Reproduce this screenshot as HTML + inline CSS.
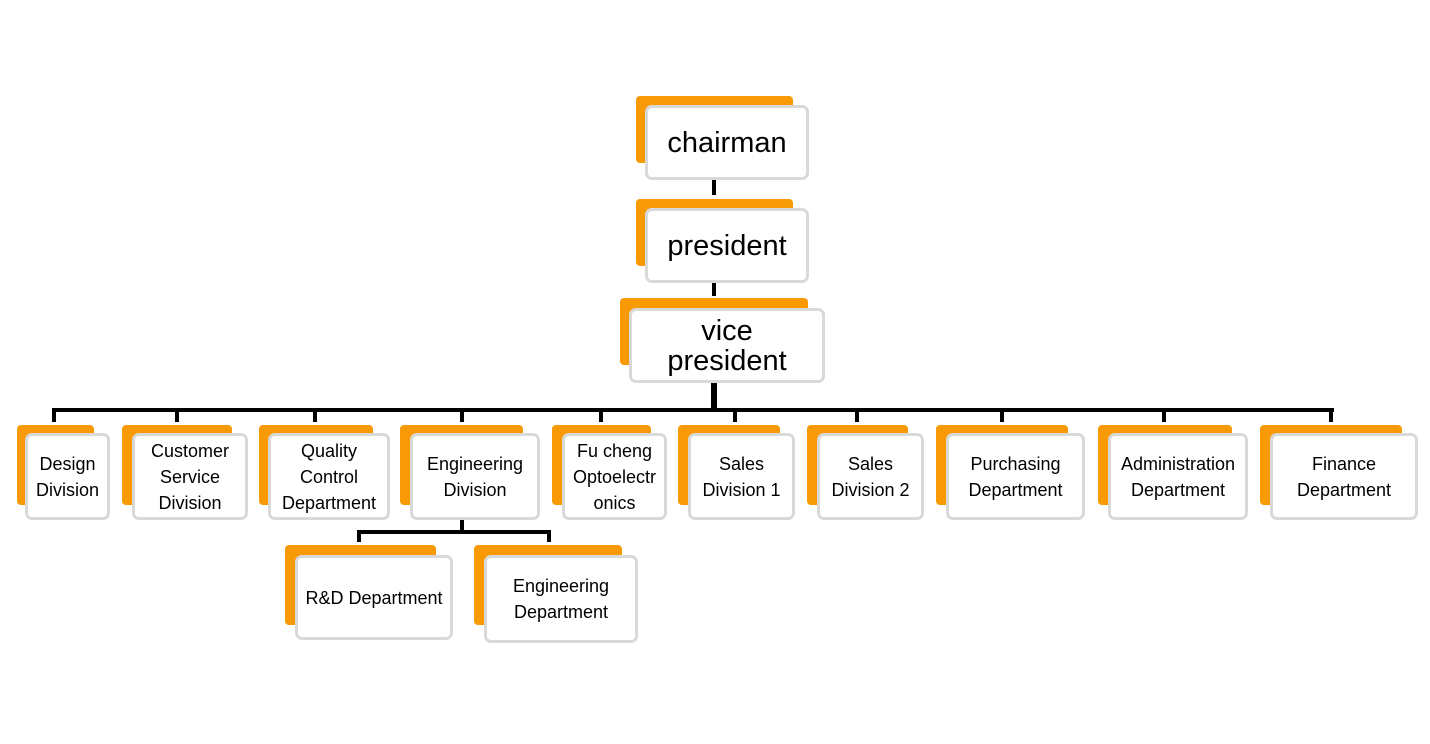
<!DOCTYPE html>
<html><head><meta charset="utf-8"><style>
html,body{margin:0;padding:0;background:#fff;}
body{width:1430px;height:744px;position:relative;overflow:hidden;font-family:"Liberation Sans",sans-serif;}
.o{position:absolute;background:#f89a06;border-radius:4px;}
.w{position:absolute;background:#fff;border:3px solid #d9d9d9;border-radius:7px;box-sizing:border-box;display:flex;align-items:center;justify-content:center;text-align:center;color:#000;font-size:18px;line-height:26px;white-space:nowrap;}
.big{font-size:29px;line-height:30px;}
.l{position:absolute;background:#000;}
</style></head><body>
<div class="l" style="left:712px;top:180px;width:4px;height:15px"></div>
<div class="l" style="left:712px;top:282px;width:4px;height:14px"></div>
<div class="l" style="left:711px;top:382px;width:6px;height:30px"></div>
<div class="l" style="left:52px;top:408px;width:1282px;height:4px"></div>
<div class="l" style="left:52px;top:408px;width:4px;height:14px"></div>
<div class="l" style="left:175px;top:408px;width:4px;height:14px"></div>
<div class="l" style="left:313px;top:408px;width:4px;height:14px"></div>
<div class="l" style="left:460px;top:408px;width:4px;height:14px"></div>
<div class="l" style="left:599px;top:408px;width:4px;height:14px"></div>
<div class="l" style="left:733px;top:408px;width:4px;height:14px"></div>
<div class="l" style="left:855px;top:408px;width:4px;height:14px"></div>
<div class="l" style="left:1000px;top:408px;width:4px;height:14px"></div>
<div class="l" style="left:1162px;top:408px;width:4px;height:14px"></div>
<div class="l" style="left:1329px;top:408px;width:4px;height:14px"></div>
<div class="l" style="left:460px;top:520px;width:4px;height:13px"></div>
<div class="l" style="left:357px;top:530px;width:194px;height:4px"></div>
<div class="l" style="left:357px;top:530px;width:4px;height:12px"></div>
<div class="l" style="left:547px;top:530px;width:4px;height:12px"></div>

<div class="o" style="left:636px;top:96px;width:157px;height:67px"></div>
<div class="w big" style="left:645px;top:105px;width:164px;height:75px">chairman</div>
<div class="o" style="left:636px;top:199px;width:157px;height:67px"></div>
<div class="w big" style="left:645px;top:208px;width:164px;height:75px">president</div>
<div class="o" style="left:620px;top:298px;width:188px;height:67px"></div>
<div class="w big" style="left:629px;top:308px;width:196px;height:75px">vice<br>president</div>

<div class="o" style="left:17px;top:425px;width:77px;height:80px"></div>
<div class="w" style="left:25px;top:433px;width:85px;height:87px">Design<br>Division</div>
<div class="o" style="left:122px;top:425px;width:110px;height:80px"></div>
<div class="w" style="left:132px;top:433px;width:116px;height:87px">Customer<br>Service<br>Division</div>
<div class="o" style="left:259px;top:425px;width:114px;height:80px"></div>
<div class="w" style="left:268px;top:433px;width:122px;height:87px">Quality<br>Control<br>Department</div>
<div class="o" style="left:400px;top:425px;width:123px;height:80px"></div>
<div class="w" style="left:410px;top:433px;width:130px;height:87px">Engineering<br>Division</div>
<div class="o" style="left:552px;top:425px;width:99px;height:80px"></div>
<div class="w" style="left:562px;top:433px;width:105px;height:87px">Fu cheng<br>Optoelectr<br>onics</div>
<div class="o" style="left:678px;top:425px;width:102px;height:80px"></div>
<div class="w" style="left:688px;top:433px;width:107px;height:87px">Sales<br>Division 1</div>
<div class="o" style="left:807px;top:425px;width:101px;height:80px"></div>
<div class="w" style="left:817px;top:433px;width:107px;height:87px">Sales<br>Division 2</div>
<div class="o" style="left:936px;top:425px;width:132px;height:80px"></div>
<div class="w" style="left:946px;top:433px;width:139px;height:87px">Purchasing<br>Department</div>
<div class="o" style="left:1098px;top:425px;width:134px;height:80px"></div>
<div class="w" style="left:1108px;top:433px;width:140px;height:87px">Administration<br>Department</div>
<div class="o" style="left:1260px;top:425px;width:142px;height:80px"></div>
<div class="w" style="left:1270px;top:433px;width:148px;height:87px">Finance<br>Department</div>

<div class="o" style="left:285px;top:545px;width:151px;height:80px"></div>
<div class="w" style="left:295px;top:555px;width:158px;height:85px">R&amp;D Department</div>
<div class="o" style="left:474px;top:545px;width:148px;height:80px"></div>
<div class="w" style="left:484px;top:555px;width:154px;height:88px">Engineering<br>Department</div>
</body></html>
